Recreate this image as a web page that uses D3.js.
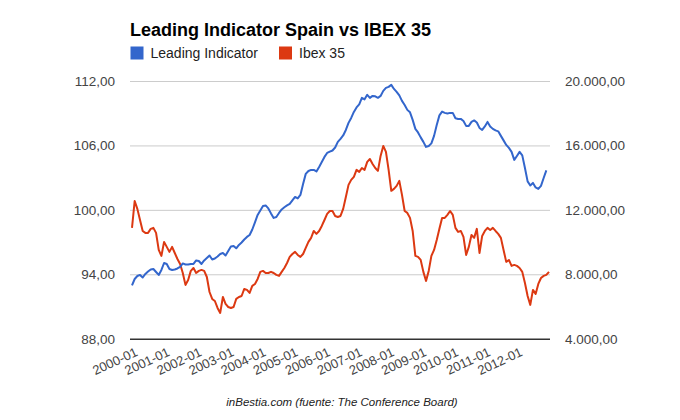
<!DOCTYPE html>
<html>
<head>
<meta charset="utf-8">
<script src="https://cdn.jsdelivr.net/npm/d3@7/dist/d3.min.js"></script>
<style>
  body { margin: 0; background: #fff; }
  svg { display: block; font-family: Arial, "Liberation Sans", sans-serif; }
</style>
</head>
<body>
<svg id="chart" width="680" height="420"></svg>
<script>
// Leading Indicator (left axis), monthly 2000-01 .. 2012-12
var leading = [
  92.96, 93.56, 93.84, 93.94, 93.70, 94.03, 94.26, 94.45, 94.49, 94.21, 93.94, 94.40,
  95.05, 94.96, 94.49, 94.40, 94.45, 94.54, 94.68, 95.01, 94.91, 94.91, 94.96, 94.96,
  95.29, 95.24, 94.96, 95.29, 95.52, 95.75, 95.38, 95.47, 95.66, 95.89, 95.98, 95.75,
  96.17, 96.59, 96.64, 96.42, 96.73, 96.96, 97.24, 97.48, 97.66, 98.17, 98.83, 99.53,
  99.94, 100.36, 100.41, 100.13, 99.67, 99.25, 99.34, 99.71, 100.04, 100.24, 100.41, 100.55,
  100.88, 101.20, 101.06, 101.39, 102.41, 103.35, 103.62, 103.72, 103.72, 103.58, 104.00, 104.46,
  104.93, 105.30, 105.42, 105.53, 105.81, 106.33, 106.61, 106.93, 107.44, 108.10, 108.56, 109.12,
  109.54, 109.82, 110.43, 110.29, 110.71, 110.43, 110.61, 110.57, 110.43, 110.61, 111.08, 111.36,
  111.45, 111.64, 111.26, 110.99, 110.66, 110.15, 109.77, 109.31, 109.08, 108.38, 107.54, 107.21,
  106.75, 106.33, 105.86, 105.95, 106.19, 106.89, 107.91, 108.80, 109.15, 109.03, 108.98, 109.03,
  109.03, 108.53, 108.47, 108.47, 108.28, 107.82, 107.82, 108.19, 108.33, 108.14, 107.63, 107.44,
  107.77, 108.19, 107.77, 107.54, 107.40, 107.31, 106.89, 106.47, 106.05, 105.77, 105.40, 104.65,
  105.02, 105.40, 105.07, 103.90, 102.65, 102.27, 102.51, 102.09, 101.95, 102.23, 102.97, 103.67
];

// Ibex 35 (right axis), monthly 2000-01 .. 2013-01
var ibex = [
  10880, 12550, 12060, 11370, 10690, 10570, 10570, 10820, 10880, 10570, 9510, 9140,
  10010, 9700, 9390, 9700, 9320, 8950, 8640, 8080, 7340, 7650, 8210, 8390,
  8080, 8210, 8270, 8210, 7830, 6900, 6470, 6340, 5910, 5600, 6590, 6160,
  5970, 5910, 5970, 6470, 6590, 6650, 7090, 7030, 6840, 7280, 7400, 7710,
  8150, 8210, 8080, 8080, 8150, 8080, 7960, 7900, 8150, 8390, 8700, 9080,
  9260, 9390, 9200, 9080, 9260, 9640, 10010, 10260, 10690, 10510, 10690, 11000,
  11370, 11750, 11930, 11930, 11620, 11560, 11620, 12060, 12800, 13550, 13860, 14050,
  14480, 14360, 14600, 14480, 14980, 15160, 14850, 14600, 14420, 15350, 15970, 15600,
  14480, 13180, 13300, 13490, 13800, 12930, 11930, 11810, 11500, 10690, 9140, 9080,
  8890, 8150, 7590, 8210, 9140, 9510, 10130, 10820, 11500, 11500, 11690, 11930,
  11690, 10880, 10630, 10690, 10320, 9200, 9700, 10440, 10260, 10820, 9320, 10380,
  10690, 10880, 10750, 10880, 10690, 10510, 10260, 9510, 8770, 8890, 8520, 8580,
  8520, 8390, 8150, 7460, 6650, 6100, 7030, 6780, 7400, 7770, 7900, 7960,
  8150
];

var years = ["2000","2001","2002","2003","2004","2005","2006","2007","2008","2009","2010","2011","2012"];
var leftTicks = [88, 94, 100, 106, 112];
var rightTicks = [4000, 8000, 12000, 16000, 20000];

// month labels "YYYY-MM" for the category axis
var months = [];
years.concat(["2013"]).forEach(function(y) {
  for (var m = 1; m <= 12; m++) months.push(y + "-" + (m < 10 ? "0" + m : m));
});
months = months.slice(0, ibex.length);

var es = d3.formatLocale({decimal: ",", thousands: ".", grouping: [3], currency: ["", "€"]});
var fmt = es.format(",.2f");

var svg = d3.select("#chart");
var plotL = 130, plotR = 550, plotT = 81, plotB = 338.7;

var x = d3.scalePoint().domain(months).range([132, 549]);
var yL = d3.scaleLinear().domain([88, 112]).range([plotB, plotT]);
var yR = d3.scaleLinear().domain([4000, 20000]).range([plotB, plotT]);

// title
svg.append("text")
  .attr("x", 130).attr("y", 36)
  .attr("font-size", 18).attr("font-weight", "bold").attr("fill", "#000")
  .text("Leading Indicator Spain vs IBEX 35");

// legend
var legend = [{name: "Leading Indicator", color: "#3366cc", x: 130.5},
              {name: "Ibex 35", color: "#dc3912", x: 279}];
var lg = svg.selectAll(".lg").data(legend).enter().append("g")
  .attr("class", "lg")
  .attr("transform", function(d) { return "translate(" + d.x + ",46.5)"; });
lg.append("rect").attr("width", 13).attr("height", 13).attr("fill", function(d) { return d.color; });
lg.append("text").attr("x", 20).attr("y", 11.5)
  .attr("font-size", 14).attr("fill", "#222")
  .text(function(d) { return d.name; });

// left axis + gridlines
var gl = svg.append("g").attr("transform", "translate(" + plotL + ",0)")
  .call(d3.axisLeft(yL).tickValues(leftTicks).tickFormat(fmt)
    .tickSizeInner(-(plotR - plotL)).tickSizeOuter(0).tickPadding(15));
gl.select(".domain").remove();
gl.selectAll(".tick line").attr("stroke", function(d) { return d === 88 ? "#333" : "#ccc"; })
  .attr("stroke-width", function(d) { return d === 88 ? 1.5 : 1; });
gl.selectAll(".tick text").attr("font-size", 13.5).attr("fill", "#444")
  .attr("font-family", null);

// right axis
var gr = svg.append("g").attr("transform", "translate(" + plotR + ",0)")
  .call(d3.axisRight(yR).tickValues(rightTicks).tickFormat(fmt).tickSize(0).tickPadding(15));
gr.select(".domain").remove();
gr.selectAll(".tick text").attr("font-size", 13.5).attr("fill", "#444")
  .attr("font-family", null);

// bottom axis, slanted labels on each January
var gx = svg.append("g").attr("transform", "translate(0," + plotB + ")")
  .call(d3.axisBottom(x).tickValues(years.map(function(y) { return y + "-01"; })).tickSize(0));
gx.select(".domain").remove();
gx.selectAll(".tick text")
  .attr("font-size", 13).attr("fill", "#444").attr("font-family", null)
  .attr("text-anchor", "end")
  .attr("y", 0).attr("dy", 0)
  .attr("transform", "translate(6,16.5) rotate(-25)");

// lines
var lineL = d3.line().x(function(d, i) { return x(months[i]); }).y(function(d) { return yL(d); });
var lineR = d3.line().x(function(d, i) { return x(months[i]); }).y(function(d) { return yR(d); });

svg.append("path").datum(ibex)
  .attr("fill", "none").attr("stroke", "#dc3912").attr("stroke-width", 2)
  .attr("stroke-linejoin", "round").attr("d", lineR);
svg.append("path").datum(leading)
  .attr("fill", "none").attr("stroke", "#3366cc").attr("stroke-width", 2)
  .attr("stroke-linejoin", "round").attr("d", lineL);

// source caption
svg.append("text")
  .attr("x", 342).attr("y", 406).attr("text-anchor", "middle")
  .attr("font-size", 11.5).attr("font-style", "italic").attr("fill", "#222")
  .text("inBestia.com (fuente: The Conference Board)");
</script>
</body>
</html>
